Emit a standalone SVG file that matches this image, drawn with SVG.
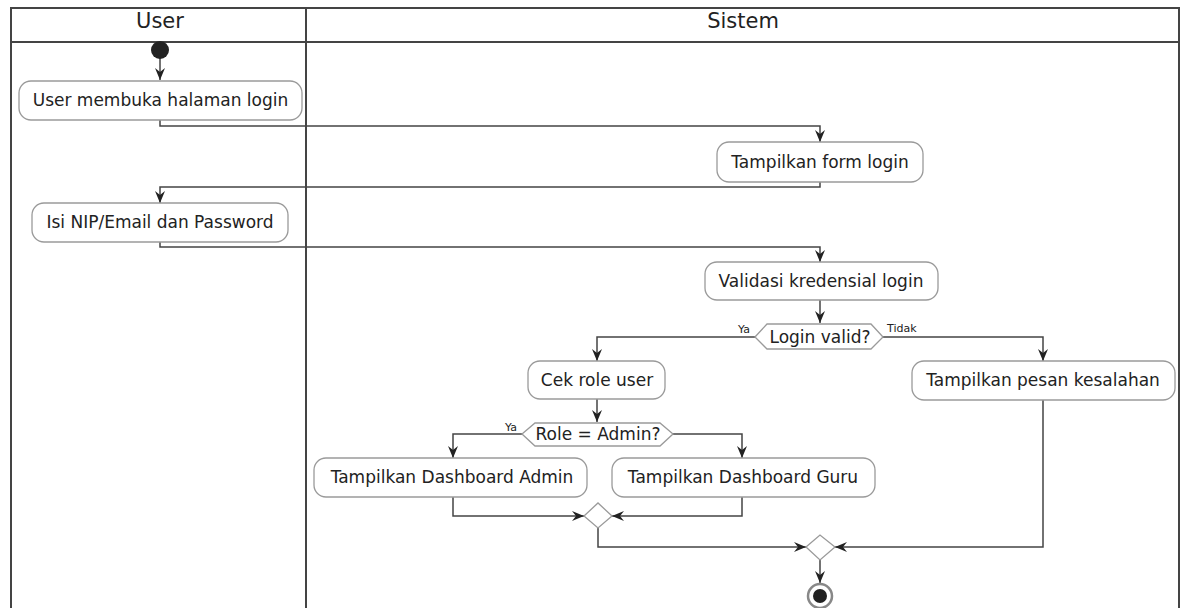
<svg xmlns="http://www.w3.org/2000/svg" width="1181" height="608" viewBox="0 0 1181 608">
<style>
.lane{stroke:#444;stroke-width:2;fill:none}
.hdr{font-family:"DejaVu Sans",sans-serif;font-size:21px;fill:#222;text-anchor:middle}
.act{fill:#fff;stroke:#9a9a9a;stroke-width:1.3}
.t{font-family:"DejaVu Sans",sans-serif;font-size:17px;fill:#222;text-anchor:middle}
.lbl{font-family:"DejaVu Sans",sans-serif;font-size:11px;fill:#222}
.c{fill:none;stroke:#444;stroke-width:1.5;marker-end:url(#ah)}
</style>
<defs>
<marker id="ah" viewBox="0 0 12 10" refX="12" refY="5" markerWidth="12" markerHeight="10" markerUnits="userSpaceOnUse" orient="auto">
<path d="M0,0 L12,5 L0,10 L4,5 z" fill="#222"/>
</marker>
</defs>
<rect width="1181" height="608" fill="#fff"/>
<g id="swimlanes">
<path class="lane" d="M11,608 L11,8 L1179,8 L1179,608"/>
<line class="lane" x1="11" y1="42" x2="1179" y2="42"/>
<line class="lane" x1="306" y1="8" x2="306" y2="608"/>
<text class="hdr" x="160" y="28">User</text>
<text class="hdr" x="743" y="28">Sistem</text>
</g>
<g id="connectors">
<path class="c" d="M160,58 L160,80"/>
<path class="c" d="M160,120 L160,126 L820,126 L820,142"/>
<path class="c" d="M820,182 L820,187 L160,187 L160,203"/>
<path class="c" d="M160,242 L160,247 L820,247 L820,262"/>
<path class="c" d="M820,300 L820,323"/>
<path class="c" d="M755,337 L597,337 L597,361"/>
<path class="c" d="M883,337 L1043,337 L1043,361"/>
<path class="c" d="M597,399 L597,422"/>
<path class="c" d="M522,434 L453,434 L453,458"/>
<path class="c" d="M673,434 L742,434 L742,458"/>
<path class="c" d="M453,497 L453,516 L584,516"/>
<path class="c" d="M742,497 L742,516 L612,516"/>
<path class="c" d="M598,528 L598,547 L806,547"/>
<path class="c" d="M1043,400 L1043,547 L835,547"/>
<path class="c" d="M820,560 L820,583"/>
<text class="lbl" x="738" y="333">Ya</text>
<text class="lbl" x="887" y="332">Tidak</text>
<text class="lbl" x="505" y="431">Ya</text>
</g>
<g id="start"><circle cx="160" cy="50" r="9" fill="#222"/></g>
<g id="n1"><rect class="act" x="19" y="81" width="283" height="39" rx="12"/><text class="t" x="160.5" y="106">User membuka halaman login</text></g>
<g id="n2"><rect class="act" x="717" y="142" width="206" height="40" rx="12"/><text class="t" x="820" y="168">Tampilkan form login</text></g>
<g id="n3"><rect class="act" x="32" y="203" width="256" height="39" rx="12"/><text class="t" x="160" y="228">Isi NIP/Email dan Password</text></g>
<g id="n4"><rect class="act" x="705" y="262" width="233" height="38" rx="12"/><text class="t" x="821" y="287">Validasi kredensial login</text></g>
<g id="d1"><polygon class="act" points="755,337 767,324 871,324 883,337 871,349 767,349"/><text class="t" x="820" y="343">Login valid?</text></g>
<g id="n5"><rect class="act" x="528" y="361" width="137" height="38" rx="12"/><text class="t" x="597" y="386">Cek role user</text></g>
<g id="n6"><rect class="act" x="912" y="361" width="263" height="39" rx="12"/><text class="t" x="1043" y="386">Tampilkan pesan kesalahan</text></g>
<g id="d2"><polygon class="act" points="522,434 535,423 660,423 673,434 660,446 535,446"/><text class="t" x="598" y="440">Role = Admin?</text></g>
<g id="n7"><rect class="act" x="314" y="458" width="273" height="39" rx="12"/><text class="t" x="452" y="483">Tampilkan Dashboard Admin</text></g>
<g id="n8"><rect class="act" x="612" y="458" width="263" height="39" rx="12"/><text class="t" x="743" y="483">Tampilkan Dashboard Guru</text></g>
<g id="m1"><polygon class="act" points="584,516 598,503 612,516 598,528"/></g>
<g id="m2"><polygon class="act" points="806,547 820,535 835,547 820,560"/></g>
<g id="end"><circle cx="820" cy="596" r="12" fill="#fff" stroke="#888" stroke-width="2.5"/><circle cx="820" cy="596" r="7" fill="#222"/></g>
</svg>
